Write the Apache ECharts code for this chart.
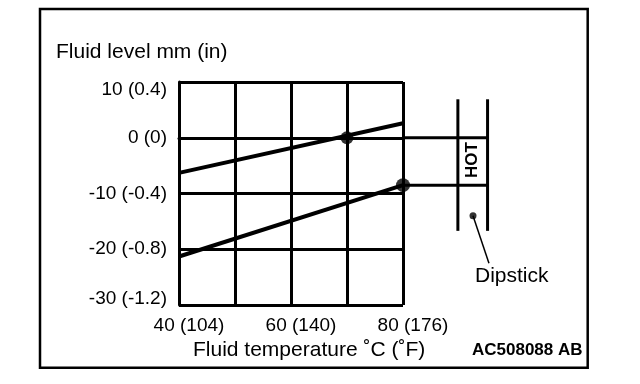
<!DOCTYPE html>
<html>
<head>
<meta charset="utf-8">
<script src="https://cdn.jsdelivr.net/npm/echarts@6/dist/echarts.min.js"></script>
<style>
html,body{margin:0;padding:0;background:#fff;}
#c{width:640px;height:384px;}
</style>
</head>
<body>
<div id="c"></div>
<script>
// ---- data ----
var xTicks = [40, 60, 80];
var xTickText = ['40 (104)', '60 (140)', '80 (176)'];
var yTicks = [10, 0, -10, -20, -30];
var yTickText = ['10 (0.4)', '0 (0)', '-10 (-0.4)', '-20 (-0.8)', '-30 (-1.2)'];
var upperLine = [[40, -6.3], [80, 2.6]];
var lowerLine = [[40, -21.3], [80, -8.5]];
var upperDot = [[70, 0]];
var lowerDot = [[80, -8.5]];
var upperExt = [[80, 0], [95.1, 0]];
var lowerExt = [[80, -8.5], [95.1, -8.5]];
var dipLeft = [[89.8, 6.9], [89.8, -16.7]];
var dipRight = [[95.1, 6.9], [95.1, -16.7]];
var leader = [[92.5, -14.0], [95.35, -22.5]];
var titleText = 'Fluid level mm (in)';
var xName = 'Fluid temperature \u02DAC (\u02DAF)';
var dipText = 'Dipstick';
var hotText = 'HOT';
var codeText = 'AC508088 AB';

var FONT = '"Liberation Sans", Arial, Helvetica, sans-serif';
var chart = echarts.init(document.getElementById('c'), null, {renderer: 'canvas'});

function lineSeries(data, width, grid) {
  return {
    type: 'line', data: data, xAxisIndex: grid, yAxisIndex: grid,
    showSymbol: false, symbol: 'none', clip: false, silent: true,
    lineStyle: {color: '#000', width: width}, z: 5
  };
}

var option = {
  animation: false,
  backgroundColor: '#fff',
  grid: [
    {left: 179, top: 82, width: 224, height: 223},
    {left: 179, top: 82, width: 313.6, height: 223}
  ],
  xAxis: [
    {
      type: 'value', gridIndex: 0, min: 40, max: 80, interval: 10,
      axisLine: {show: true, lineStyle: {color: '#000', width: 3}},
      axisTick: {show: false},
      splitLine: {show: true, lineStyle: {color: '#000', width: 3}},
      axisLabel: {
        color: '#000', fontFamily: FONT, fontSize: 19, margin: 11,
        padding: [0, 0, 0, 20],
        formatter: function (v) {
          var i = xTicks.indexOf(v);
          return i >= 0 ? xTickText[i] : '';
        }
      }
    },
    {type: 'value', gridIndex: 1, min: 40, max: 96, show: false, splitLine: {show: false}}
  ],
  yAxis: [
    {
      type: 'value', gridIndex: 0, min: -30, max: 10, interval: 10,
      axisLine: {show: true, lineStyle: {color: '#000', width: 3}},
      axisTick: {show: false},
      splitLine: {show: true, lineStyle: {color: '#000', width: 3}},
      axisLabel: {
        color: '#000', fontFamily: FONT, fontSize: 19, margin: 12,
        formatter: function (v) {
          var i = yTicks.indexOf(v);
          if (i < 0) return '';
          var key = i === 0 ? 't' : (i === yTicks.length - 1 ? 'b' : 'm');
          return '{' + key + '|' + yTickText[i] + '}';
        },
        rich: {
          t: {color: '#000', fontFamily: FONT, fontSize: 19, padding: [16, 0, 0, 0]},
          m: {color: '#000', fontFamily: FONT, fontSize: 19},
          b: {color: '#000', fontFamily: FONT, fontSize: 19, padding: [0, 0, 12, 0]}
        }
      }
    },
    {type: 'value', gridIndex: 1, min: -30, max: 10, show: false, splitLine: {show: false}}
  ],
  series: [
    lineSeries(upperLine, 4, 0),
    lineSeries(lowerLine, 4, 0),
    lineSeries(upperExt, 3, 1),
    lineSeries(lowerExt, 3, 1),
    lineSeries(dipLeft, 3, 1),
    lineSeries(dipRight, 3, 1),
    {
      type: 'line', data: leader, xAxisIndex: 1, yAxisIndex: 1, clip: false, silent: true,
      symbol: 'none', lineStyle: {color: '#000', width: 1.5}, z: 5
    },
    {
      type: 'scatter', data: [leader[0]], xAxisIndex: 1, yAxisIndex: 1, clip: false,
      symbol: 'circle', symbolSize: 7, itemStyle: {color: '#000'}, z: 6, silent: true
    },
    {
      type: 'scatter', data: upperDot, xAxisIndex: 1, yAxisIndex: 1, clip: false,
      symbol: 'circle', symbolSize: 13, itemStyle: {color: '#000'}, z: 6, silent: true
    },
    {
      type: 'scatter', data: lowerDot, xAxisIndex: 1, yAxisIndex: 1, clip: false,
      symbol: 'circle', symbolSize: 14, itemStyle: {color: '#000'}, z: 6, silent: true
    }
  ],
  graphic: [
    {type: 'rect', shape: {x: 40, y: 9, width: 547.7, height: 358.7},
     style: {fill: 'none', stroke: '#000', lineWidth: 2.5}, z: 10, silent: true},
    {type: 'text', x: 56, y: 52, style: {text: titleText, font: '21px ' + FONT, fill: '#000', verticalAlign: 'middle'}},
    {type: 'text', x: 193, y: 350, style: {text: xName, font: '21px ' + FONT, fill: '#000', verticalAlign: 'middle'}},
    {type: 'text', x: 475, y: 276, style: {text: dipText, font: '21px ' + FONT, fill: '#000', verticalAlign: 'middle'}},
    {type: 'text', x: 472, y: 350, style: {text: codeText, font: 'bold 17px ' + FONT, fill: '#000', verticalAlign: 'middle'}},
    {type: 'text', x: 472.5, y: 160, rotation: Math.PI / 2,
     style: {text: hotText, font: 'bold 17px ' + FONT, fill: '#000', align: 'center', verticalAlign: 'middle'}}
  ]
};
chart.setOption(option);
</script>
</body>
</html>
